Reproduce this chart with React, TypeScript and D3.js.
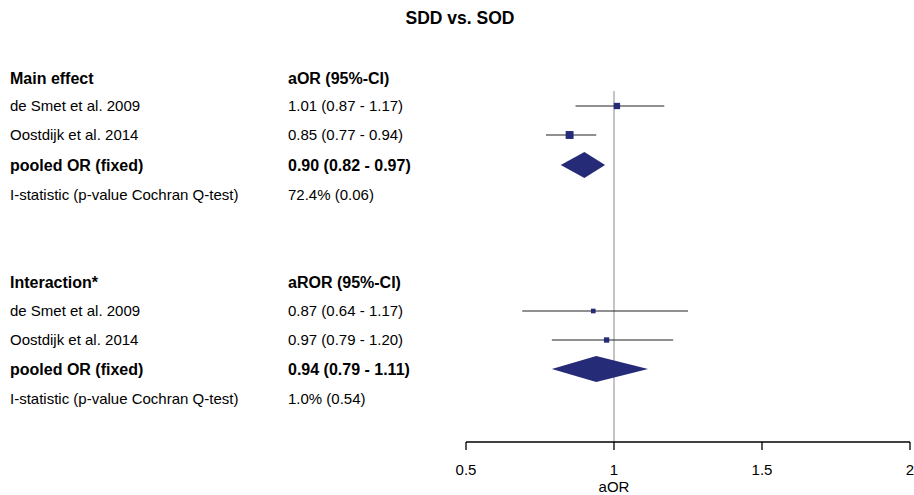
import React from "react";
import * as d3 from "d3";

const title = "SDD vs. SOD";

const mainHeader = ["Main effect", "aOR (95%-CI)"];
const mainStudies = ["de Smet et al. 2009", "Oostdijk et al. 2014"];
const mainText = ["1.01 (0.87 - 1.17)", "0.85 (0.77 - 0.94)"];
const mainEst = [1.01, 0.85];
const mainLo = [0.87, 0.77];
const mainHi = [1.17, 0.94];
const mainPooled = { label: "pooled OR (fixed)", text: "0.90 (0.82 - 0.97)", est: 0.9, lo: 0.82, hi: 0.97 };
const mainStat = ["I-statistic (p-value Cochran Q-test)", "72.4% (0.06)"];

const intHeader = ["Interaction*", "aROR (95%-CI)"];
const intStudies = ["de Smet et al. 2009", "Oostdijk et al. 2014"];
const intText = ["0.87 (0.64 - 1.17)", "0.97 (0.79 - 1.20)"];
// plotted positions
const intEst = [0.93, 0.975];
const intLo = [0.69, 0.79];
const intHi = [1.25, 1.2];
const intWeightLo = [0.64, 0.79];
const intWeightHi = [1.17, 1.2];
const intPooled = { label: "pooled OR (fixed)", text: "0.94 (0.79 - 1.11)", est: 0.94, lo: 0.79, hi: 1.115 };
const intStat = ["I-statistic (p-value Cochran Q-test)", "1.0% (0.54)"];

const xTicks = [0.5, 1, 1.5, 2];
const xLabel = "aOR";

const NAVY = "#262B78";
const FONT = "'Liberation Sans', Arial, Helvetica, sans-serif";

export default function App() {
  const W = 914, H = 495;
  const x = d3.scaleLinear().domain([0.5, 2]).range([466, 910]);
  const mainRows = [78, 106, 135, 165, 195];
  const intRows = [282, 311, 340, 369, 399];
  const axisY = 442;
  const col1 = 10, col2 = 288;
  const weight = (lo: number, hi: number) => {
    const se = (Math.log(hi) - Math.log(lo)) / 3.92;
    return 1 / (se * se);
  };
  const sizeScale = d3.scaleLinear().domain([0, 20]).range([3, 8]);

  const diamond = (p: { est: number; lo: number; hi: number }, y: number) => {
    const h = 13;
    const path = d3.path();
    path.moveTo(x(p.lo), y);
    path.lineTo(x(p.est), y - h);
    path.lineTo(x(p.hi), y);
    path.lineTo(x(p.est), y + h);
    path.closePath();
    return <path d={path.toString()} fill={NAVY} />;
  };

  const block = (
    header: string[], studies: string[], texts: string[], est: number[], lo: number[], hi: number[],
    wlo: number[], whi: number[], pooled: any, stat: string[], rows: number[], key: string
  ) => (
    <g key={key}>
      <text x={col1} y={rows[0]} dy="0.35em" fontWeight="bold" fontSize={16}>{header[0]}</text>
      <text x={col2} y={rows[0]} dy="0.35em" fontWeight="bold" fontSize={16}>{header[1]}</text>
      {studies.map((s, i) => {
        const y = rows[1 + i];
        const sz = sizeScale(Math.sqrt(weight(wlo[i], whi[i])));
        return (
          <g key={s + i}>
            <text x={col1} y={y} dy="0.35em" fontSize={15}>{s}</text>
            <text x={col2} y={y} dy="0.35em" fontSize={15}>{texts[i]}</text>
            <line x1={x(lo[i])} x2={x(hi[i])} y1={y} y2={y} stroke="#222" strokeWidth={1.2} />
            <rect x={x(est[i]) - sz / 2} y={y - sz / 2} width={sz} height={sz} fill={NAVY} />
          </g>
        );
      })}
      <text x={col1} y={rows[3]} dy="0.35em" fontWeight="bold" fontSize={16}>{pooled.label}</text>
      <text x={col2} y={rows[3]} dy="0.35em" fontWeight="bold" fontSize={16}>{pooled.text}</text>
      {diamond(pooled, rows[3])}
      <text x={col1} y={rows[4]} dy="0.35em" fontSize={15}>{stat[0]}</text>
      <text x={col2} y={rows[4]} dy="0.35em" fontSize={15}>{stat[1]}</text>
    </g>
  );

  return (
    <svg width={W} height={H} style={{ position: "absolute", left: 0, top: 0, display: "block", background: "#fff" }}
      fontFamily={FONT} fill="#000">
      <rect width={W} height={H} fill="#fff" />
      <text x={460} y={18} dy="0.35em" textAnchor="middle" fontWeight="bold" fontSize={17.5}>{title}</text>
      <line x1={x(1)} x2={x(1)} y1={91} y2={axisY} stroke="#8a8a8a" strokeWidth={1} />
      {block(mainHeader, mainStudies, mainText, mainEst, mainLo, mainHi, mainLo, mainHi, mainPooled, mainStat, mainRows, "m")}
      {block(intHeader, intStudies, intText, intEst, intLo, intHi, intWeightLo, intWeightHi, intPooled, intStat, intRows, "i")}
      <line x1={x(xTicks[0])} x2={x(xTicks[xTicks.length - 1])} y1={axisY} y2={axisY} stroke="#000" strokeWidth={1.3} />
      {xTicks.map((t) => (
        <g key={t}>
          <line x1={x(t)} x2={x(t)} y1={axisY} y2={axisY + 8} stroke="#000" strokeWidth={1.3} />
          <text x={x(t)} y={470} dy="0.35em" textAnchor="middle" fontSize={15}>{d3.format("")(t)}</text>
        </g>
      ))}
      <text x={x(1)} y={487} dy="0.35em" textAnchor="middle" fontSize={15}>{xLabel}</text>
    </svg>
  );
}
